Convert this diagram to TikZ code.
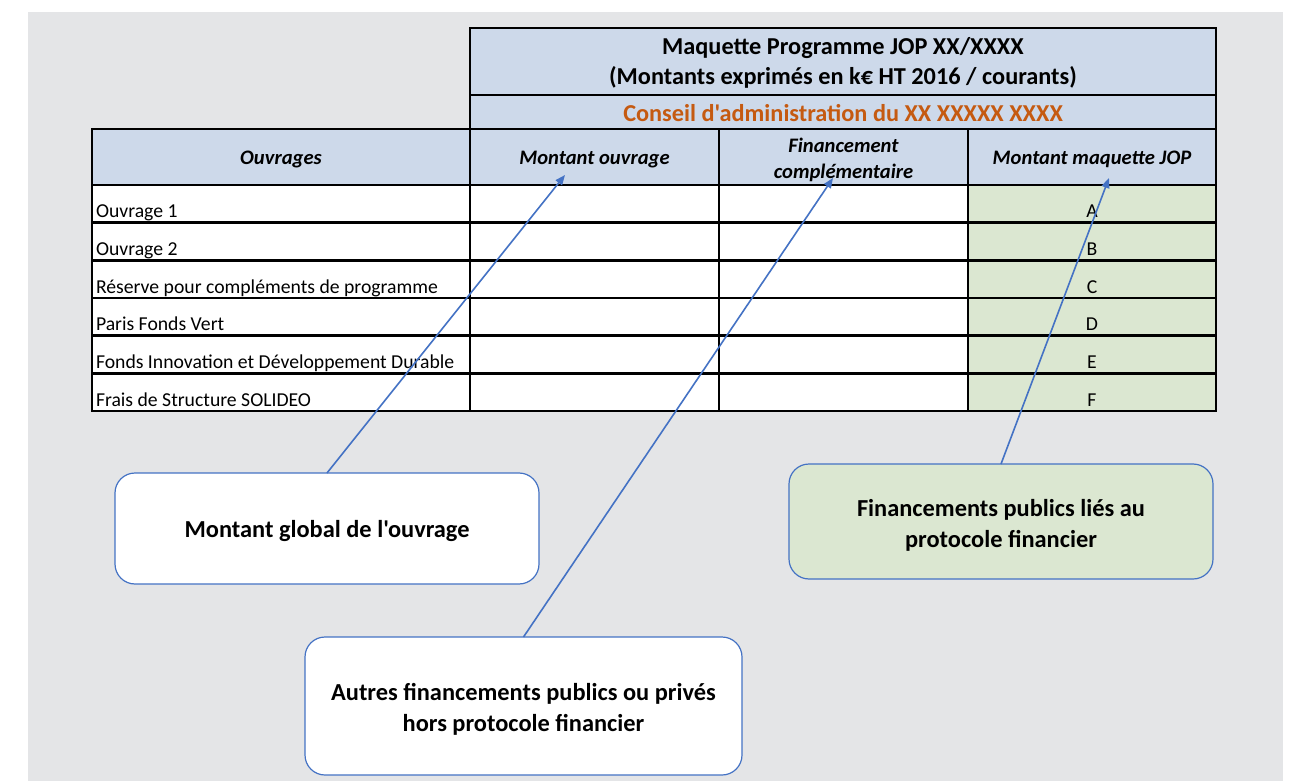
\documentclass[tikz,border=0pt]{standalone}
\usepackage{fontspec}
\setmainfont{Carlito}[Ligatures=TeXOff]
\usetikzlibrary{arrows.meta}

\definecolor{bgGray}{RGB}{228,229,231}
\definecolor{hdrBlue}{RGB}{205,217,234}
\definecolor{cellGreen}{RGB}{219,231,209}
\definecolor{lineBlue}{RGB}{68,114,196}
\definecolor{titleOrange}{RGB}{197,90,17}

\newcommand{\rowfont}{\fontsize{19.7}{23}\selectfont}
\newcommand{\hdrfont}{\bfseries\itshape\fontsize{20.6}{26}\selectfont}
\newcommand{\ttlfont}{\bfseries\fontsize{24.3}{30}\selectfont}
\newcommand{\boxfont}{\bfseries\fontsize{24.4}{31}\selectfont}

\begin{document}
\begin{tikzpicture}[x=1pt,y=-1pt,
  every node/.style={inner sep=0pt, outer sep=0pt},
  cell/.style={rectangle, draw=black, line width=1.4pt, fill=white,
    minimum height=37.67},
  hdrcell/.style={rectangle, draw=black, line width=1.4pt, fill=hdrBlue},
  hrule/.style={line width=2.4pt, black},
  callout/.style={rectangle, rounded corners=20pt, draw=lineBlue,
    line width=1.2pt},
  callouttext/.style={align=center, font=\boxfont},
  pointer/.style={draw=lineBlue, line width=1.6pt,
    -{Triangle[length=10pt,width=8pt]}}]

% page and grey backdrop
\useasboundingbox (0,0) rectangle (1294,781);
\fill[white] (0,0) rectangle (1294,781);
\fill[bgGray] (28,12) rectangle (1283,781);

% title block
\node[hdrcell, minimum width=746, minimum height=67] (title) at (843,61.5) {};
\node[align=center, font=\ttlfont] (titletxt) at (843,63)
  {Maquette Programme JOP XX/XXXX\\(Montants exprimés en k€ HT 2016 / courants)};
\node[hdrcell, minimum width=746, minimum height=34] (council) at (843,112) {};
\node[font=\ttlfont, text=titleOrange] (counciltxt) at (843,113.5)
  {Conseil d'administration du XX XXXXX XXXX};

% column headers
\node[hdrcell, minimum width=378, minimum height=56] (hOuv) at (281,157) {};
\node[hdrcell, minimum width=249, minimum height=56] (hMont) at (594.5,157) {};
\node[hdrcell, minimum width=249, minimum height=56] (hFin) at (843.5,157) {};
\node[hdrcell, minimum width=248, minimum height=56] (hMaq) at (1092,157) {};
\node[font=\hdrfont] (hOuvtxt) at (281,159.5) {Ouvrages};
\node[font=\hdrfont] (hMonttxt) at (594.5,159.5) {Montant ouvrage};
\node[font=\hdrfont, align=center] (hFintxt) at (843.5,159.5)
  {Financement\\complémentaire};
\node[font=\hdrfont] (hMaqtxt) at (1092,159.5) {Montant maquette JOP};

% body rows
\foreach \i/\lab/\ltr in {1/Ouvrage 1/A, 2/Ouvrage 2/B,
    3/Réserve pour compléments de programme/C, 4/Paris Fonds Vert/D,
    5/Fonds Innovation et Développement Durable/E,
    6/Frais de Structure SOLIDEO/F}{
  \pgfmathsetmacro{\cy}{185+37.67*(\i-1)+18.83}
  \node[cell, minimum width=378] (r\i a) at (281,\cy) {};
  \node[cell, minimum width=249] (r\i b) at (594.5,\cy) {};
  \node[cell, minimum width=249] (r\i c) at (843.5,\cy) {};
  \node[cell, minimum width=248, fill=cellGreen] (r\i d) at (1092,\cy) {};
  \node[anchor=base west, font=\rowfont] (r\i t)
    at ([xshift=4pt,yshift=5pt]r\i a.south west) {\lab};
  \node[anchor=base, font=\rowfont] (r\i l)
    at ([yshift=5pt]r\i d.south) {\ltr};
}

% heavier horizontal rules
\draw[hrule] (title.north west) -- (title.north east);
\draw[hrule] (title.south west) -- (title.south east);
\draw[hrule] (hOuv.north west) -- (hMaq.north east);
\draw[hrule] (hOuv.south west) -- (hMaq.south east);
\foreach \i in {1,...,6}{
  \draw[hrule] (r\i a.south west) -- (r\i d.south east);
}
\draw[line width=2pt] (title.north east) -- (r6d.south east);

% callouts
\node[callout, fill=white, minimum width=424, minimum height=111]
  (box1) at (327,528.5) {};
\node[callout, fill=cellGreen, minimum width=424, minimum height=115]
  (box2) at (1001,521.5) {};
\node[callout, fill=white, minimum width=437, minimum height=138]
  (box3) at (523.5,706) {};
\node[callouttext] (box1txt) at ([yshift=-2.5pt]box1.center)
  {Montant global de l'ouvrage};
\node[callouttext] (box2txt) at ([yshift=-3.5pt]box2.center)
  {Financements publics liés au\\protocole financier};
\node[callouttext] (box3txt) at ([yshift=-3pt]box3.center)
  {Autres financements publics ou privés\\hors protocole financier};

% pointers to the header cells
\coordinate (tip1) at (565,175);
\coordinate (tip2) at (833,178);
\coordinate (tip3) at (1109,178);
\draw[pointer] (box1.north) -- (tip1);
\draw[pointer] (box3.north) -- (tip2);
\draw[pointer] (box2.north) -- (tip3);
\end{tikzpicture}
\end{document}
